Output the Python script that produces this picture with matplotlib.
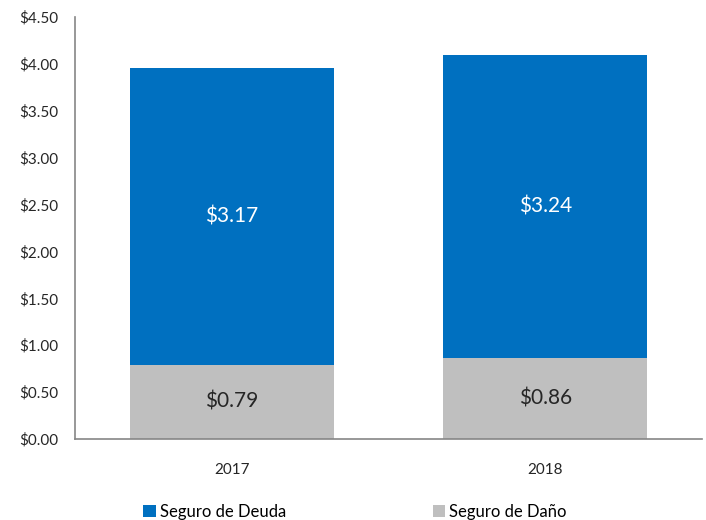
import matplotlib.pyplot as plt
import numpy as np

years = ["2017", "2018"]
seguro_dano = [0.79, 0.86]
seguro_deuda = [3.17, 3.24]
y_ticks = [0.0, 0.5, 1.0, 1.5, 2.0, 2.5, 3.0, 3.5, 4.0, 4.5]

plt.rcParams['font.family'] = ['Lato', 'DejaVu Sans']

fig = plt.figure(figsize=(7.06, 5.2), dpi=100)
ax = fig.add_axes([75 / 706, 81 / 520, 627 / 706, 422 / 520])

x = np.arange(len(years))
w = 0.65
b1 = ax.bar(x, seguro_dano, w, color="#BFBFBF", label="Seguro de Daño")
b2 = ax.bar(x, seguro_deuda, w, bottom=seguro_dano, color="#0070C0", label="Seguro de Deuda")

for i in range(len(years)):
    ax.text(x[i], seguro_dano[i] / 2, f"${seguro_dano[i]:.2f}", ha="center", va="center",
            fontsize=15, color="#262626")
    ax.text(x[i], seguro_dano[i] + seguro_deuda[i] / 2, f"${seguro_deuda[i]:.2f}",
            ha="center", va="center", fontsize=15, color="white")

ax.set_xlim(-0.5, 1.5)
ax.set_ylim(0, 4.5)
ax.set_yticks(y_ticks)
ax.set_yticklabels([f"${v:.2f}" for v in y_ticks])
ax.set_xticks(x)
ax.set_xticklabels(years)
ax.tick_params(length=0, labelsize=11, colors="#262626")
ax.tick_params(axis="x", pad=17)
ax.tick_params(axis="y", pad=12)

for s in ["top", "right"]:
    ax.spines[s].set_visible(False)
for s in ["left", "bottom"]:
    ax.spines[s].set_color("#868686")
    ax.spines[s].set_linewidth(1.2)

fig.legend(handles=[b2, b1], loc="lower left", bbox_to_anchor=(128 / 706, -0.028), ncol=2,
           frameon=False, fontsize=12, handlelength=0.75, handleheight=0.75,
           handletextpad=0.25, columnspacing=8.8)

fig.savefig("out.png")
